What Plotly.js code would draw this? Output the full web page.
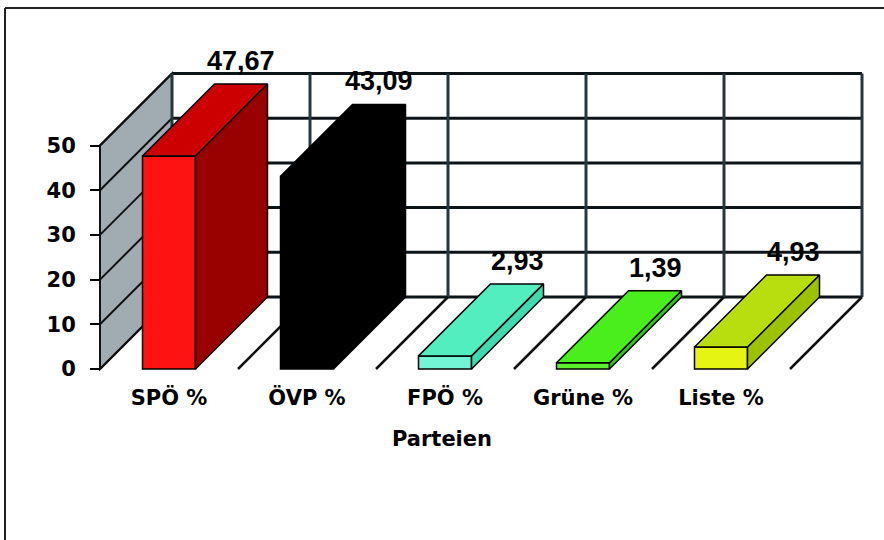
<!DOCTYPE html>
<html>
<head>
<meta charset="utf-8">
<script src="https://cdn.plot.ly/plotly-3.0.1.min.js"></script>
<style>html,body{margin:0;padding:0;background:#fff;}#chart{width:884px;height:540px;}</style>
</head>
<body>
<div id="chart"></div>
<script>
// ---- data ----
const categories = ['SPÖ %', 'ÖVP %', 'FPÖ %', 'Grüne %', 'Liste %'];
const values = [47.67, 43.09, 2.93, 1.39, 4.93];
const valueLabels = ['47,67', '43,09', '2,93', '1,39', '4,93'];
const yTicks = [0, 10, 20, 30, 40, 50];
const xTitle = 'Parteien';

// ---- styles ----
const frontColors = ['#ff1212', '#000000', '#74f4d6', '#5cf02a', '#e6f414'];
const topColors   = ['#cc0000', '#000000', '#52eec0', '#4aee1c', '#b8de10'];
const sideColors  = ['#990000', '#000000', '#40dab0', '#30c414', '#9cc200'];

// ---- geometry (pixel layout of the oblique projection) ----
const W = 884, H = 540;
const frontLeftPx = 100, catPx = 138, zeroPx = 369, unitPx = 4.47;
const depthPx = 72;
const dX = depthPx / catPx;      // depth offset in category units
const dY = depthPx / unitPx;     // depth offset in value units
const barW = 53 / catPx;
const yMax = yTicks[yTicks.length - 1];
const nCat = categories.length;
const xRange = [-0.5 - frontLeftPx / catPx, -0.5 + (W - frontLeftPx) / catPx];
const yRange = [-(H - zeroPx) / unitPx, zeroPx / unitPx];

const shapes = [];
// frame
shapes.push({type:'line', xref:'paper', yref:'paper', x0:5/W, x1:1, y0:1-8/H, y1:1-8/H, line:{color:'#222', width:2}});
shapes.push({type:'line', xref:'paper', yref:'paper', x0:5/W, x1:5/W, y0:0, y1:1-8/H, line:{color:'#222', width:2}});
// left side wall
const xl = -0.5;
shapes.push({type:'path', layer:'below', xref:'x', yref:'y',
  path:`M${xl},0 L${xl+dX},${dY} L${xl+dX},${yMax+dY} L${xl},${yMax} Z`,
  fillcolor:'#a0acb1', line:{color:'#111', width:2}});
yTicks.forEach(v => {
  shapes.push({type:'line', layer:'below', xref:'x', yref:'y', x0:xl, y0:v, x1:xl+dX, y1:v+dY, line:{color:'#111', width:2}});
});
// back wall grid
yTicks.forEach(v => {
  shapes.push({type:'line', layer:'below', xref:'x', yref:'y', x0:xl+dX, y0:v+dY, x1:nCat-0.5+dX, y1:v+dY, line:{color:'#0c1418', width:3}});
});
for (let k = 0; k <= nCat; k++) {
  shapes.push({type:'line', layer:'below', xref:'x', yref:'y', x0:k-0.5+dX, y0:dY, x1:k-0.5+dX, y1:yMax+dY, line:{color:'#25363d', width:3}});
}
// floor dividers
for (let k = 1; k <= nCat; k++) {
  shapes.push({type:'line', layer:'below', xref:'x', yref:'y', x0:k-0.5, y0:0, x1:k-0.5+dX, y1:dY, line:{color:'#111', width:2.5}});
}

const traces = [];
// front faces
traces.push({type:'bar', x:categories.map((c,i)=>i), y:values, width:barW,
  marker:{color:frontColors, line:{color:'#000', width:1.5}}, hoverinfo:'skip', showlegend:false});
// side and top faces
values.forEach((v, i) => {
  const l = i - barW/2, r = i + barW/2;
  traces.push({type:'scatter', mode:'lines', fill:'toself', fillcolor:sideColors[i],
    x:[r, r+dX, r+dX, r, r], y:[0, dY, v+dY, v, 0],
    line:{color:'#000', width:1.5}, hoverinfo:'skip', showlegend:false});
  traces.push({type:'scatter', mode:'lines', fill:'toself', fillcolor:topColors[i],
    x:[l, r, r+dX, l+dX, l], y:[v, v, v+dY, v+dY, v],
    line:{color:'#000', width:1.5}, hoverinfo:'skip', showlegend:false});
});

// value labels (above the back edge of each bar top)
const labelFont = {family:'Liberation Sans, Arial, sans-serif', size:27, color:'#000', weight:'bold'};
const annotations = values.map((v, i) => ({
  xref:'x', yref:'y', x:i+dX, y:v+dY, text:valueLabels[i], showarrow:false,
  xanchor:'center', yanchor:'bottom', yshift:6, font:labelFont
}));

const tickFont = {family:'DejaVu Sans, sans-serif', size:21, color:'#000', weight:'bold'};
const layout = {
  width:W, height:H, margin:{l:0, r:0, t:0, b:0},
  paper_bgcolor:'#fff', plot_bgcolor:'#fff', showlegend:false, hovermode:false,
  xaxis:{range:xRange, anchor:'free', position:(H-zeroPx)/H, tickvals:categories.map((c,i)=>i), ticktext:categories,
    ticks:'', showline:false, showgrid:false, zeroline:false, tickfont:tickFont, ticklabelstandoff:14,
    title:{text:xTitle, font:tickFont, standoff:22}},
  yaxis:{range:yRange, anchor:'free', position:frontLeftPx/W, side:'left', tickvals:yTicks,
    ticks:'outside', ticklen:10, tickwidth:2, tickcolor:'#000', showline:false, showgrid:false, zeroline:false,
    tickfont:tickFont, ticklabelstandoff:10},
  shapes:shapes, annotations:annotations, barmode:'overlay'
};
Plotly.newPlot('chart', traces, layout, {staticPlot:true, displayModeBar:false});
</script>
</body>
</html>
